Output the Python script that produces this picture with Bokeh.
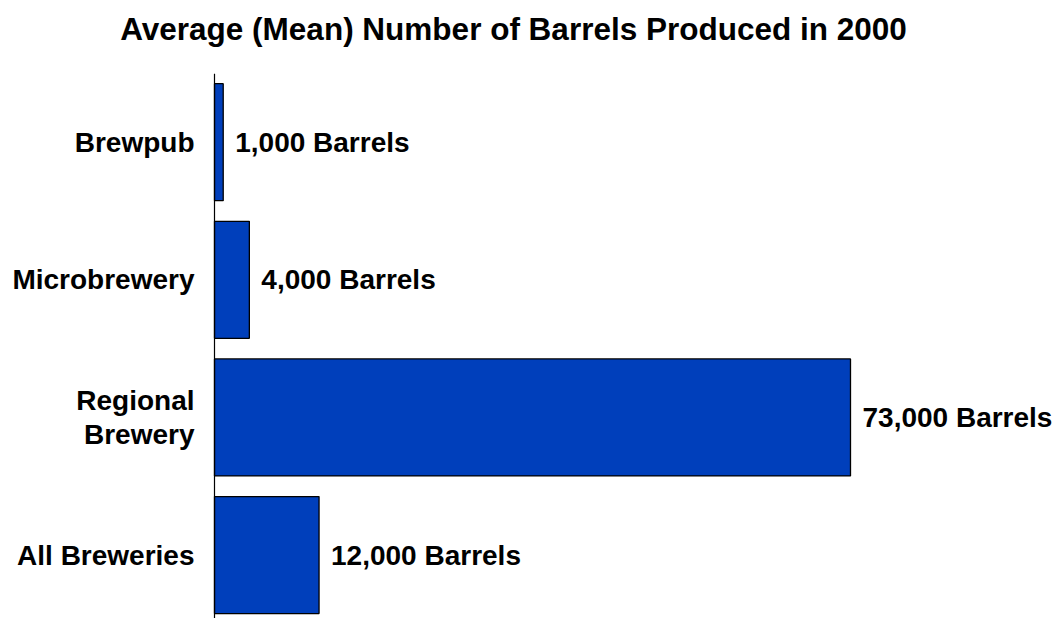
from bokeh.plotting import figure
from bokeh.models import ColumnDataSource, Range1d, Label
from bokeh.core.properties import value
from bokeh.embed import file_html
from bokeh.resources import INLINE

# ---- data ----
categories = ["Brewpub", "Microbrewery", "Regional\nBrewery", "All Breweries"]
barrels = [1000, 4000, 73000, 12000]
value_labels = ["{:,} Barrels".format(v) for v in barrels]
title_text = "Average (Mean) Number of Barrels Produced in 2000"

# slot positions (top to bottom)
positions = [len(categories) - i for i in range(len(categories))]

src = ColumnDataSource(dict(cat=categories, y=positions, v=barrels, lab=value_labels,
                            zero=[0] * len(categories)))

W, H = 1058, 618
p = figure(width=W, height=H, output_backend="svg", toolbar_location=None,
           x_axis_location=None, y_axis_location=None,
           x_range=Range1d(-24563, 96875), y_range=Range1d(0.5394, 5.029),
           min_border=0, outline_line_color=None)
p.xgrid.visible = False
p.ygrid.visible = False
p.background_fill_color = "white"
p.border_fill_color = "white"

FONT = "Liberation Sans"
BLUE = "#003FBB"

p.hbar(y="y", left="zero", right="v", height=0.85, source=src,
       fill_color=BLUE, line_color="black", line_width=1.3)

# vertical axis line
p.segment(x0=[0], y0=[0.4], x1=[0], y1=[4.497], line_color="black", line_width=1.2)

# category labels
p.text(x="zero", y="y", text="cat", source=src, x_offset=-20,
       text_align="right", text_baseline="middle",
       text_font=value(FONT), text_font_style="bold", text_font_size="28px",
       text_color="black", text_line_height=1.1)

# value labels
p.text(x="v", y="y", text="lab", source=src, x_offset=12,
       text_align="left", text_baseline="middle",
       text_font=value(FONT), text_font_style="bold", text_font_size="28px",
       text_color="black")

p.add_layout(Label(x=513, y=H - 28, x_units="screen", y_units="screen",
                   text=title_text, text_align="center", text_baseline="middle",
                   text_font=FONT, text_font_style="bold", text_font_size="31.5px",
                   text_color="black"))

open("out.html", "w").write(file_html(p, INLINE))
